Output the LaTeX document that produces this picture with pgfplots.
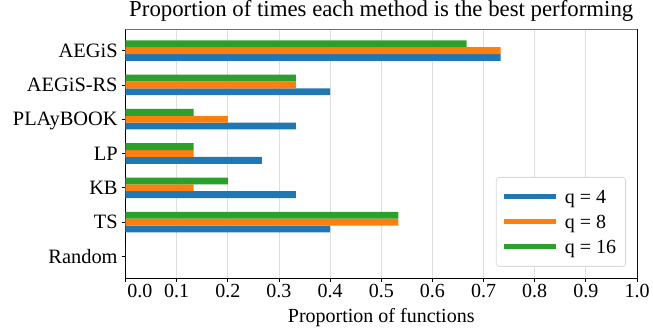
\documentclass[border=0pt]{standalone}
\usepackage{pgfplots}
\pgfplotsset{compat=1.18}
\usepackage{fontspec}
\setmainfont{Liberation Serif}
\definecolor{tabblue}{HTML}{1F77B4}
\definecolor{taborange}{HTML}{FF7F0E}
\definecolor{tabgreen}{HTML}{2CA02C}
\begin{document}
\begin{tikzpicture}
\begin{axis}[
  scale only axis,
  width=511.5pt, height=249pt,
  xmin=0, xmax=1.0,
  ymin=-0.63, ymax=6.63,
  xtick={0,0.1,0.2,0.3,0.4,0.5,0.6,0.7,0.8,0.9,1.0},
  xticklabels={\hspace*{29pt}0.0,0.1,0.2,0.3,0.4,0.5,0.6,0.7,0.8,0.9,1.0},
  ytick={0,1,2,3,4,5,6},
  yticklabels={Random,TS,KB,LP,PLAyBOOK,AEGiS-RS,AEGiS},
  xticklabel style={font=\fontsize{20}{24}\selectfont, anchor=base, inner sep=0pt, yshift=-16.2pt},
  yticklabel style={font=\fontsize{20.4}{24}\selectfont, anchor=base east, inner sep=0pt, xshift=-4.2pt, yshift=-6.7pt},
  xlabel={Proportion of functions},
  xlabel style={font=\fontsize{20}{24}\selectfont, at={(0.5,0)}, anchor=base, inner sep=0pt, yshift=-44.5pt},
  title={Proportion of times each method is the best performing},
  title style={font=\fontsize{22.8}{27}\selectfont, at={(0.5,1)}, anchor=base, inner sep=0pt, yshift=6.5pt},
  xmajorgrids, grid style={black!13, line width=0.9pt},
  tick align=outside,
  xtick pos=bottom, ytick pos=left,
  major tick length=3.5pt,
  tick style={black, line width=0.8pt},
  axis line style={black, line width=0.8pt},
  xbar, bar width=0.2,
  legend style={at={(0.9785,0.045)}, anchor=south east, draw=black!15, line width=0.8pt, rounded corners=3pt,
    font=\fontsize{20}{23}\selectfont, row sep=3pt, column sep=2pt, inner xsep=5.5pt, inner ysep=8.5pt,
    nodes={inner xsep=4pt, inner ysep=1pt, text height=16.5pt, text depth=3.5pt}},
  legend cell align=left,
  legend image code/.code={\draw[line width=5pt,#1] (0pt,0pt) -- (52pt,0pt);},
]
\addplot[fill=tabblue, draw=none, color=tabblue, bar shift=-0.2] coordinates {
(0.7333,6) (0.4,5) (0.3333,4) (0.2667,3) (0.3333,2) (0.4,1) (0,0)};
\addplot[fill=taborange, draw=none, color=taborange, bar shift=0] coordinates {
(0.7333,6) (0.3333,5) (0.2,4) (0.1333,3) (0.1333,2) (0.5333,1) (0,0)};
\addplot[fill=tabgreen, draw=none, color=tabgreen, bar shift=0.2] coordinates {
(0.6667,6) (0.3333,5) (0.1333,4) (0.1333,3) (0.2,2) (0.5333,1) (0,0)};
\legend{q = 4, q = 8, q = 16}
\draw[black!55, line width=0.8pt] (rel axis cs:0,1) -- (rel axis cs:1,1) -- (rel axis cs:1,0);
\coordinate (bl) at (rel axis cs:0,0);
\coordinate (tr) at (rel axis cs:1,1);
\end{axis}
\pgfresetboundingbox
\path ([shift={(-125.5pt,-49pt)}]bl) rectangle ([shift={(16pt,29pt)}]tr);
\end{tikzpicture}
\end{document}
